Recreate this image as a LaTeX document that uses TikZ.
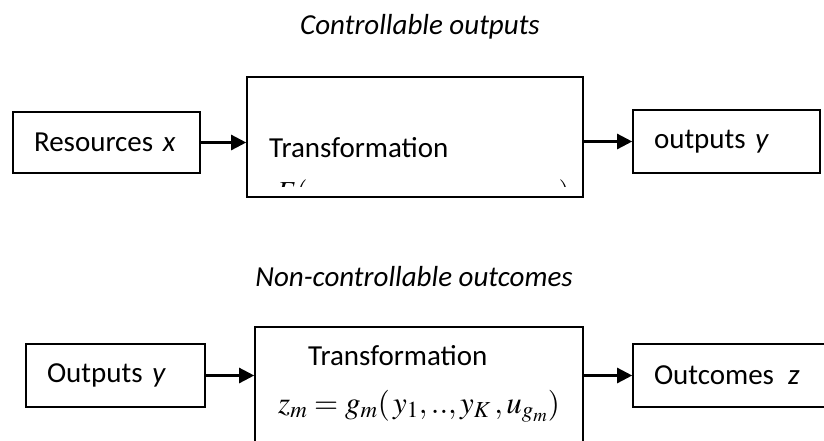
\documentclass[tikz,border=0pt]{standalone}
\usepackage{mathptmx}
\usepackage{fontspec}
\setmainfont{Carlito}
\usetikzlibrary{positioning}
\usetikzlibrary{arrows.meta}
\tikzset{every node/.style={ % Sets the text size for every label
font=\fontsize{29}{34}\selectfont},
box/.style={draw, line width=1.6pt, inner xsep=21pt, align=left},
title/.style={font=\fontsize{29}{34}\selectfont\itshape},
flow/.style={ % Sets the properties for each connector
draw,
line width=2.4pt,
-{Triangle[length=15pt,width=15pt]}}}

\begin{document}
\begin{tikzpicture}[x=1pt,y=-1pt]
\useasboundingbox (0,0) rectangle (824,440);
\clip (0,0) rectangle (824,440);
% controllable part
\node[title] (ctitle) at (420,27) {Controllable outputs};
\node[box, text width=145pt, minimum height=61pt] (res) at (106.5,142.5) {Resources \textit{x}};
\node[box, minimum width=336pt, minimum height=120pt] (tra) at (415,137) {};
\node[anchor=base west, inner sep=0pt] (tratext) at (269,157) {Transformation};
\node[box, text width=145pt, minimum height=63pt] (outp) at (726.5,141.5) {outputs \textit{y}};
\begin{scope}
\clip (247,176) rectangle (583,186.5);
\node[anchor=base west, inner sep=0pt] (fopen) at (276,201) {$F($};
\node[anchor=base east, inner sep=0pt] (fclose) at (570,201) {$)$};
\end{scope}
\draw[flow] (res) -- (res -| tra.west);
\draw[flow] (tra.east |- outp) -- (outp);
% non-controllable part
\node[title] (ntitle) at (414,277) {Non-controllable outcomes};
\node[box, text width=137pt, minimum height=63pt] (outb) at (115.5,375.5) {Outputs \textit{y}};
\node[box, minimum width=328pt, minimum height=150pt] (trb) at (419,402) {};
\node[anchor=base west, inner sep=0pt] (trbtext) at (308,365) {Transformation};
\node[anchor=base west, inner sep=0pt, font=\fontsize{31}{36}\selectfont] (form) at (278,413)
  {$z_m = g_m(\,y_1,.., y_K\,, u_{g_m})$};
\node[box, text width=200pt, minimum height=63pt] (outc) at (754,375.5) {Outcomes\hspace{14pt}\textit{z}};
\draw[flow] (outb) -- (outb -| trb.west);
\draw[flow] (trb.east |- outc) -- (outc);
\end{tikzpicture}
\end{document}
